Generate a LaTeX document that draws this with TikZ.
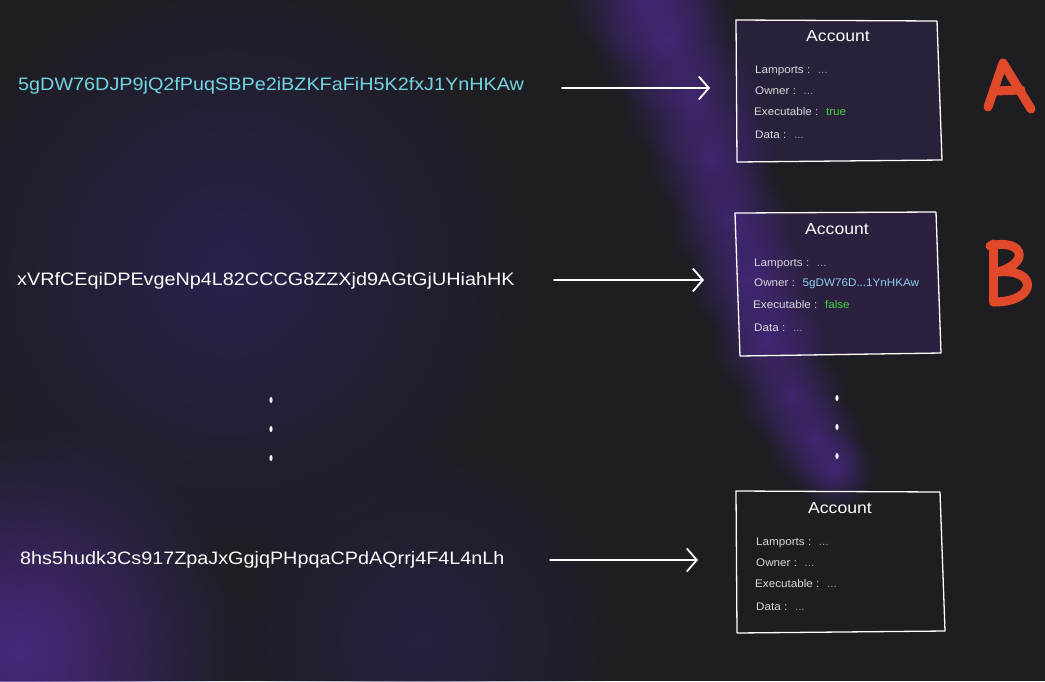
\documentclass[tikz,border=0pt]{standalone}
\usepackage{fontspec}
\setmainfont{Liberation Sans}
\newfontfamily\widefont[FakeStretch=1.1]{Liberation Sans}
\newfontfamily\smallwide[FakeStretch=1.06]{Liberation Sans}
\usetikzlibrary{arrows.meta,fadings}
\tikzfading[name=softglow, inner color=transparent!0, outer color=transparent!100]
\definecolor{bg}{HTML}{1E1D21}
\definecolor{purp}{HTML}{4A2A88}
\definecolor{haze}{HTML}{2C2458}
\definecolor{addrA}{HTML}{72D6E2}
\definecolor{ownB}{HTML}{8DD2EE}
\definecolor{okgreen}{HTML}{3FD83F}
\definecolor{fieldc}{HTML}{D8D8DC}
\definecolor{dimc}{HTML}{9A9AA0}
\definecolor{letterred}{HTML}{E04A2A}
\tikzset{
  addr/.style={anchor=west, font=\widefont\fontsize{18}{20}\selectfont, inner sep=0pt},
  acctitle/.style={font=\widefont\fontsize{16}{18}\selectfont, text=white, inner sep=0pt},
  field/.style={anchor=west, font=\smallwide\fontsize{11}{13}\selectfont, text=fieldc, inner sep=0pt},
  accbox/.style={draw=white, line width=1.3pt, line join=round},
  link/.style={draw=white, line width=1.8pt, line cap=round, -{Straight Barb[length=10pt,width=23pt,line width=1.8pt]}},
  vdot/.style={fill=white, draw=none},
  hand/.style={draw=letterred, line width=9pt, line cap=round, line join=round},
  glow/.style={fill=#1, path fading=softglow}
}
\newcommand{\sep}{\hspace{0.7em}}
\begin{document}
\begin{tikzpicture}[x=1pt,y=-1pt]
\useasboundingbox (0,0) rectangle (1045,681);
\fill[bg] (0,0) rectangle (1045,681);
% haze
\fill[glow=haze, opacity=0.8] (230,270) circle (300);
\fill[glow=purp, opacity=0.9] (20,650) circle (230);
\fill[glow=haze, opacity=0.6] (420,640) circle (200);
% streak
\foreach \x/\y/\r in {645/-10/80,668/40/75,692/100/70,712/160/65,730/220/62,748/280/60,768/340/58,792/395/55,815/440/50,835/470/40}
  \fill[glow=purp, opacity=0.75] (\x,\y) circle (\r);
% boxes
\fill[purp, opacity=0.25] (736,20) -- (937,21) -- (942,160) -- (737,162) -- cycle;
\fill[purp, opacity=0.3] (735,213) -- (936,212) -- (941,353) -- (740,356) -- cycle;
\draw[accbox] (736,20) -- (937,21) -- (942,160) -- (737,162) -- cycle;
\draw[accbox] (735,213) -- (936,212) -- (941,353) -- (740,356) -- cycle;
\draw[accbox] (736,491) -- (940,492) -- (945,631) -- (737,633) -- cycle;
% addresses
\node[addr, text=addrA] (addra) at (18,86) {5gDW76DJP9jQ2fPuqSBPe2iBZKFaFiH5K2fxJ1YnHKAw};
\node[addr, text=white] (addrb) at (17,281) {xVRfCEqiDPEvgeNp4L82CCCG8ZZXjd9AGtGjUHiahHK};
\node[addr, text=white] (addrc) at (20,560) {8hs5hudk3Cs917ZpaJxGgjqPHpqaCPdAQrrj4F4L4nLh};
% arrows
\coordinate (sa) at (562,88); \coordinate (ea) at (710,88);
\coordinate (sb) at (554,280); \coordinate (eb) at (704,280);
\coordinate (sc) at (550,560); \coordinate (ec) at (698,560);
\draw[link] (sa) -- (ea);
\draw[link] (sb) -- (eb);
\draw[link] (sc) -- (ec);
% box A
\node[acctitle] (ta) at (838,36) {Account};
\node[field] (la) at (755,71) {Lamports :\sep\textcolor{dimc}{...}};
\node[field] (oa) at (755,91) {Owner :\sep\textcolor{dimc}{...}};
\node[field] (xa) at (754,112) {Executable :\sep\textcolor{okgreen}{true}};
\node[field] (da) at (755,135) {Data :\sep\textcolor{dimc}{...}};
% box B
\node[acctitle] (tb) at (837,229) {Account};
\node[field] (lb) at (754,264) {Lamports :\sep\textcolor{dimc}{...}};
\node[field] (ob) at (754,284) {Owner :\sep\textcolor{ownB}{5gDW76D...1YnHKAw}};
\node[field] (xb) at (753,305) {Executable :\sep\textcolor{okgreen}{false}};
\node[field] (db) at (754,328) {Data :\sep\textcolor{dimc}{...}};
% box C
\node[acctitle] (tc) at (840,508) {Account};
\node[field] (lc) at (756,543) {Lamports :\sep\textcolor{dimc}{...}};
\node[field] (oc) at (756,563) {Owner :\sep\textcolor{dimc}{...}};
\node[field] (xc) at (755,584) {Executable :\sep\textcolor{dimc}{...}};
\node[field] (dc) at (756,607) {Data :\sep\textcolor{dimc}{...}};
% dots
\foreach \y in {400,429,458} \fill[vdot] (271,\y) ellipse (1.6 and 3);
\foreach \y in {398,427,456} \fill[vdot] (837,\y) ellipse (1.6 and 3);
% letter A
\draw[hand] (988,107) -- (1003,63) -- (1031,109);
\draw[hand] (995,91) -- (1021,90);
% letter B
\draw[hand] (993,244) -- (993,302);
\draw[hand] (990,246) .. controls (1022,238) and (1032,262) .. (998,272)
  .. controls (1038,268) and (1038,302) .. (994,302);
\end{tikzpicture}
\end{document}
